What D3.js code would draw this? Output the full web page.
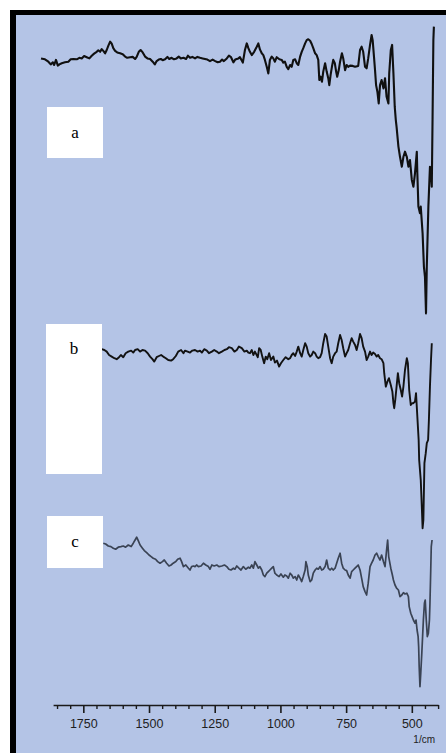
<!DOCTYPE html>
<html>
<head>
<meta charset="utf-8">
<script src="https://cdn.jsdelivr.net/npm/d3@7"></script>
<style>
  body { margin: 0; background: #ffffff; }
</style>
</head>
<body>
<div id="chart"></div>
<script>
// wavenumber tick labels (1/cm)
var majorTicks = [1750, 1500, 1250, 1000, 750, 500];
var minorTicks = [1850, 1800, 1700, 1650, 1600, 1550, 1450, 1400, 1350, 1300, 1200, 1150, 1100, 1050, 950, 900, 850, 800, 700, 650, 600, 550, 450, 400];
var panelLabels = ["a", "b", "c"];

// spectrum a : [wavenumber, transmittance]
var specA = [[1911,87.2],[1896,86.9],[1883,86.1],[1874,85.2],[1866,85.9],[1861,85.0],[1854,86.7],[1847,84.8],[1841,85.2],[1832,85.6],
  [1820,85.9],[1807,86.1],[1798,86.9],[1788,87.0],[1775,86.9],[1765,87.4],[1756,87.2],[1747,88.0],[1737,87.6],[1727,87.2],
  [1718,88.1],[1709,88.8],[1699,89.4],[1693,89.9],[1686,89.4],[1680,90.3],[1674,89.7],[1667,88.9],[1661,90.0],[1655,91.4],
  [1648,92.8],[1642,92.1],[1636,90.6],[1629,89.7],[1621,89.2],[1610,88.9],[1600,88.6],[1591,87.8],[1583,87.4],[1572,87.6],
  [1562,87.7],[1553,87.0],[1547,87.7],[1539,89.4],[1532,90.0],[1524,89.2],[1515,87.8],[1506,87.2],[1496,87.0],[1486,86.1],
  [1478,85.2],[1471,86.3],[1463,86.8],[1455,87.0],[1448,86.6],[1439,86.9],[1430,87.7],[1423,87.0],[1414,87.4],[1405,86.9],
  [1395,87.2],[1387,87.8],[1379,87.2],[1369,87.4],[1359,87.0],[1352,88.1],[1344,87.4],[1335,87.7],[1325,87.2],[1316,87.7],
  [1306,87.4],[1296,87.2],[1287,87.0],[1278,86.8],[1268,86.3],[1258,86.8],[1248,86.3],[1239,85.9],[1230,86.1],[1222,86.8],
  [1215,86.3],[1204,87.2],[1196,88.1],[1188,87.6],[1179,85.9],[1172,86.8],[1160,87.2],
  [1154,87.6],[1143,85.8],[1135,90.0],[1128,92.2],[1122,90.6],[1116,89.4],[1109,88.3],[1100,89.4],[1090,91.1],[1084,92.2],
  [1078,90.2],[1071,88.9],[1065,88.3],[1059,86.7],[1052,84.4],[1046,82.2],[1040,86.7],[1033,87.8],[1027,87.2],[1021,86.1],
  [1014,87.6],[1004,86.9],[995,86.7],[989,85.8],[983,86.1],[976,84.4],[970,83.6],[963,85.0],[957,84.4],[951,86.7],
  [944,86.9],[938,85.6],[932,85.0],[925,87.8],[919,89.4],[913,90.6],[906,92.2],[900,93.3],[894,93.6],[887,93.1],
  [881,92.0],[875,90.6],[868,88.9],[862,88.3],[856,86.7],[852,80.0],[847,81.1],[842,79.4],[837,82.8],[830,85.6],
  [824,82.8],[818,80.6],[814,78.3],[809,81.7],[804,84.4],[799,86.7],[793,85.6],[788,82.8],[784,81.1],[778,83.3],
  [773,86.1],[766,88.9],[761,87.2],[754,83.3],[748,85.0],[742,84.4],[735,84.8],[725,84.7],[716,84.4],[704,84.7],
  [697,90.0],[691,91.1],[685,89.4],[678,84.4],[672,83.9],[666,87.2],[659,91.7],[653,95.0],[649,93.3],[644,87.8],
  [640,83.3],[636,78.3],[631,76.1],[626,72.2],[621,78.3],[615,80.0],[608,77.2],[602,80.6],[596,74.4],[589,72.2],
  [586,82.2],[580,90.0],[575,91.7],[570,82.2],[565,71.1],[561,66.7],[558,64.4],[551,57.8],[545,54.4],[538,51.1],
  [532,54.4],[526,56.1],[519,54.4],[513,51.1],[507,53.3],[500,46.7],[494,44.4],[488,48.9],[481,56.1],[479,48.9],
  [475,37.8],[469,35.6],[466,37.8],[459,28.9],[454,17.8],[450,14.4],[446,2.2],[443,17.8],[437,37.8],[433,46.7],
  [431,51.1],[427,48.9],[424,44.4],[421,67.8],[418,93.3],[416,97.8]];

// spectrum b
var specB = [[1680,95.4],[1670,95.0],[1661,94.2],[1652,92.5],[1642,91.7],[1632,90.9],[1623,90.4],[1614,91.4],[1607,92.5],[1598,91.4],
  [1589,93.4],[1579,94.2],[1568,94.7],[1560,93.7],[1553,95.0],[1543,95.4],[1534,94.2],[1525,95.0],[1515,94.7],[1505,93.4],
  [1496,91.7],[1487,90.4],[1480,89.2],[1471,91.4],[1462,92.0],[1454,92.5],[1446,91.7],[1436,90.9],[1427,90.0],[1416,89.7],
  [1408,90.4],[1398,92.0],[1389,94.2],[1378,95.0],[1369,93.4],[1363,94.7],[1353,94.2],[1344,93.7],[1335,94.7],[1325,95.0],
  [1315,94.2],[1306,94.7],[1299,93.7],[1290,95.4],[1280,94.7],[1272,93.4],[1261,94.2],[1252,95.0],[1242,94.2],[1234,93.4],
  [1223,94.2],[1213,95.0],[1204,95.4],[1196,96.4],[1185,95.9],[1175,94.2],[1166,95.0],[1158,96.7],[1147,95.9],[1137,94.2],
  [1128,94.7],[1122,93.7],[1116,93.4],[1109,95.0],[1103,92.5],[1097,94.2],[1086,91.4],[1081,95.9],[1075,95.0],[1069,91.7],
  [1062,88.4],[1056,91.7],[1050,90.4],[1043,93.4],[1036,90.0],[1027,91.7],[1021,88.7],[1013,89.7],[1005,86.7],[998,88.4],
  [989,90.0],[980,91.4],[970,90.4],[963,90.9],[957,92.5],[951,93.4],[944,92.0],[938,94.2],[932,96.7],[925,93.4],
  [919,91.7],[913,95.0],[906,98.4],[900,96.7],[894,93.4],[887,91.7],[881,92.5],[875,94.2],[868,93.4],[862,91.7],
  [856,90.9],[849,91.4],[843,93.4],[837,98.4],[830,103.0],[824,101.7],[818,96.7],[811,90.9],[805,88.4],[799,91.7],
  [792,93.4],[786,94.2],[780,98.4],[773,102.5],[767,100.0],[761,95.9],[754,91.7],[748,93.4],[742,95.0],[735,98.4],
  [729,100.9],[723,99.2],[716,97.5],[710,95.0],[704,98.4],[697,103.0],[691,100.9],[685,96.7],[678,94.2],[672,90.0],
  [666,91.7],[659,94.2],[653,92.5],[647,93.7],[640,93.0],[634,91.7],[628,92.5],[621,90.9],[615,90.4],[608,88.4],
  [605,83.4],[599,76.7],[593,79.2],[587,80.9],[580,77.5],[574,74.2],[570,68.4],[567,65.9],[563,70.0],[558,76.7],
  [553,83.4],[548,78.4],[542,75.0],[537,71.7],[532,76.7],[526,85.0],[519,90.9],[515,88.4],[510,75.0],[504,67.5],
  [499,68.4],[494,68.4],[488,69.2],[484,73.4],[479,61.7],[474,50.0],[472,40.0],[466,30.0],[462,16.7],[459,5.9],
  [456,10.0],[452,38.4],[447,43.4],[443,48.4],[438,50.0],[435,60.0],[431,76.7],[427,90.0],[424,98.4]];

// spectrum c
var specC = [[1674,78.4],[1665,78.0],[1655,77.0],[1645,76.7],[1636,75.9],[1627,75.4],[1617,76.4],[1607,76.7],[1598,77.0],[1589,76.4],
  [1579,77.5],[1568,76.7],[1560,78.4],[1553,80.0],[1547,81.4],[1541,79.7],[1534,77.5],[1525,75.9],[1518,74.7],[1509,73.7],
  [1500,72.5],[1492,71.7],[1484,70.9],[1475,70.4],[1467,69.2],[1458,68.4],[1449,69.2],[1442,70.0],[1433,68.4],[1424,67.0],
  [1416,67.5],[1408,68.4],[1398,69.2],[1391,70.4],[1382,70.9],[1376,69.2],[1369,66.7],[1360,67.5],[1350,65.9],[1344,65.0],
  [1338,66.7],[1331,67.0],[1325,66.7],[1319,67.5],[1312,66.7],[1302,67.0],[1293,68.4],[1284,67.5],[1274,66.7],[1268,65.4],
  [1261,67.5],[1252,67.0],[1242,67.5],[1234,66.7],[1223,67.0],[1213,67.5],[1204,66.7],[1196,65.4],[1188,65.0],[1179,65.9],
  [1173,65.4],[1166,67.0],[1158,65.9],[1150,65.0],[1141,66.7],[1132,65.4],[1122,66.4],[1116,65.9],[1109,67.5],[1103,65.9],
  [1097,69.2],[1090,67.5],[1084,65.9],[1078,66.7],[1071,65.0],[1065,62.5],[1059,61.7],[1052,63.4],[1046,64.2],[1040,65.0],
  [1033,65.9],[1027,66.7],[1021,63.4],[1014,62.5],[1005,61.7],[998,63.0],[989,61.4],[983,62.5],[976,62.0],[970,60.9],
  [963,63.4],[957,62.5],[951,60.9],[944,61.7],[938,60.0],[932,62.5],[925,60.9],[919,59.2],[913,61.7],[906,65.0],
  [903,69.2],[898,66.7],[894,62.5],[887,59.2],[881,60.0],[875,63.4],[868,65.0],[862,65.9],[856,65.4],[849,66.7],
  [843,65.0],[837,65.4],[830,66.7],[824,70.0],[818,65.9],[811,65.0],[805,65.9],[799,65.0],[792,65.9],[786,68.4],
  [780,70.9],[773,73.4],[767,68.4],[761,65.9],[754,65.0],[748,64.7],[742,62.5],[735,60.9],[729,64.2],[723,65.0],
  [716,65.9],[710,66.7],[704,67.5],[697,65.0],[691,60.9],[685,56.7],[678,54.2],[672,52.5],[666,58.4],[659,66.7],
  [653,68.4],[647,70.0],[640,72.5],[634,73.4],[628,71.7],[621,70.0],[615,72.5],[608,69.2],[602,66.7],[596,75.0],
  [592,80.0],[588,71.7],[580,65.9],[574,62.5],[570,60.0],[564,57.5],[558,55.9],[551,55.0],[545,51.7],[538,52.5],
  [532,53.7],[526,53.0],[519,53.4],[513,51.7],[510,46.7],[504,43.4],[499,41.7],[494,40.0],[488,38.4],[484,40.0],
  [480,35.0],[476,31.7],[474,26.7],[472,16.7],[469,6.7],[466,13.4],[462,23.4],[459,31.7],[456,40.0],[452,48.4],
  [449,50.0],[445,40.0],[441,31.7],[437,33.4],[433,40.0],[431,48.4],[428,65.0],[426,76.7],[423,80.0]];

// svg area
var svgWidth = 446;
var svgHeight = 753;

var svg = d3.select("#chart")
    .append("svg")
    .attr("width", svgWidth)
    .attr("height", svgHeight)
    .style("display", "block");

// scanned page: white margin, blue plot paper, heavy black frame top and left
svg.append("rect")
    .attr("width", svgWidth)
    .attr("height", svgHeight)
    .attr("fill", "#ffffff");

svg.append("rect")
    .attr("x", 10)
    .attr("y", 10)
    .attr("width", svgWidth - 10)
    .attr("height", svgHeight - 10)
    .attr("fill", "#b4c4e6");

// top frame edge
svg.append("rect")
    .attr("x", 10).attr("y", 10)
    .attr("width", svgWidth - 10).attr("height", 5)
    .attr("fill", "#000");

// left frame edge
svg.append("rect")
    .attr("x", 10).attr("y", 10)
    .attr("width", 6).attr("height", svgHeight - 10)
    .attr("fill", "#000");

// x scale, wavenumber runs right to left
var x = d3.scaleLinear()
    .domain([1865, 400])
    .range([53.1, 438.1]);

// one transmittance band per spectrum
var yA = d3.scaleLinear().domain([0, 100]).range([320, 20]);
var yB = d3.scaleLinear().domain([0, 100]).range([540, 340]);
var yC = d3.scaleLinear().domain([0, 100]).range([700, 500]);

var spectra = [
    {data: specA, y: yA, color: "#101010", width: 2.1},
    {data: specB, y: yB, color: "#121212", width: 1.9},
    {data: specC, y: yC, color: "#3a4354", width: 1.7}
];

spectra.forEach(function(s) {
    var line = d3.line()
        .x(d => x(d[0]))
        .y(d => s.y(d[1]));

    svg.append("path")
        .datum(s.data)
        .attr("d", line)
        .attr("fill", "none")
        .attr("stroke", s.color)
        .attr("stroke-width", s.width)
        .attr("stroke-linejoin", "round");
});

// white label boxes
var boxes = [
    {x: 47, y: 107, w: 56, h: 51, ty: 138},
    {x: 46, y: 324, w: 56, h: 150, ty: 354},
    {x: 47, y: 516, w: 56, h: 52, ty: 547}
];

boxes.forEach(function(b, i) {
    svg.append("rect")
        .attr("x", b.x).attr("y", b.y)
        .attr("width", b.w).attr("height", b.h)
        .attr("fill", "#ffffff");

    svg.append("text")
        .attr("x", b.x + 28)
        .attr("y", b.ty)
        .attr("text-anchor", "middle")
        .style("font-family", "'Liberation Serif', serif")
        .style("font-size", "17px")
        .attr("fill", "#000")
        .text(panelLabels[i]);
});

// x axis with major labels
var axisY = 705;

var xAxis = d3.axisBottom(x)
    .tickValues(majorTicks)
    .tickFormat(d3.format("d"))
    .tickSize(8)
    .tickSizeOuter(0)
    .tickPadding(6);

var axisGroup = svg.append("g")
    .attr("transform", `translate(0, ${axisY})`)
    .call(xAxis);

axisGroup.select(".domain")
    .attr("stroke", "#1a1a1a")
    .attr("stroke-width", 1.6);

axisGroup.selectAll(".tick line")
    .attr("stroke", "#1a1a1a")
    .attr("stroke-width", 1.6);

axisGroup.selectAll(".tick text")
    .style("font-family", "'Liberation Sans', Arial, sans-serif")
    .style("font-size", "12.5px")
    .attr("fill", "#1e1e1e");

// minor ticks
var minorAxis = d3.axisBottom(x)
    .tickValues(minorTicks)
    .tickSize(4)
    .tickSizeOuter(0)
    .tickFormat("");

var minorGroup = svg.append("g")
    .attr("transform", `translate(0, ${axisY})`)
    .call(minorAxis);

minorGroup.select(".domain").remove();
minorGroup.selectAll(".tick line")
    .attr("stroke", "#1a1a1a")
    .attr("stroke-width", 1.4);

// unit label
svg.append("text")
    .attr("x", 435)
    .attr("y", 743)
    .attr("text-anchor", "end")
    .style("font-family", "'Liberation Sans', Arial, sans-serif")
    .style("font-size", "10px")
    .attr("fill", "#222")
    .text("1/cm");
</script>
</body>
</html>
